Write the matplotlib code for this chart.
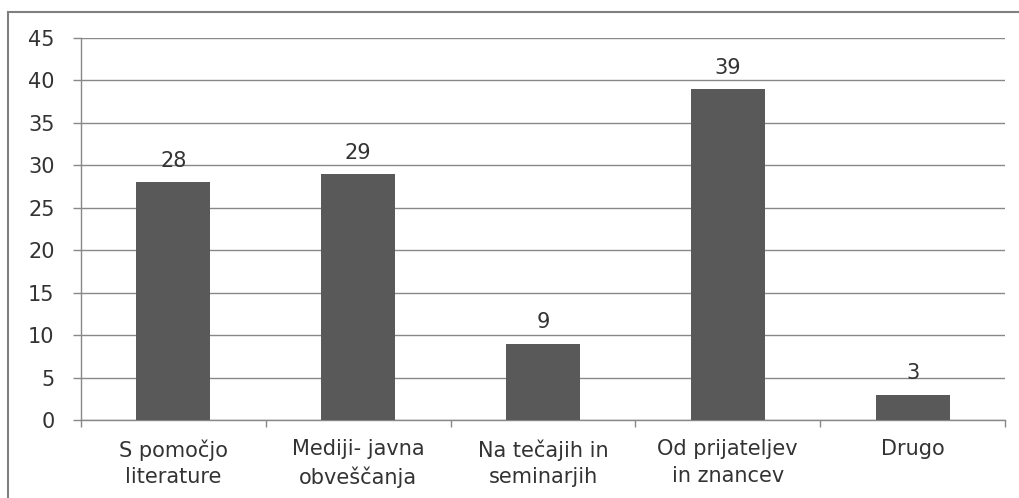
import matplotlib.pyplot as plt
from matplotlib.patches import Rectangle
import numpy as np

categories = ["S pomočjo\nliterature", "Mediji- javna\nobveščanja",
              "Na tečajih in\nseminarjih", "Od prijateljev\nin znancev", "Drugo"]
values = [28, 29, 9, 39, 3]
yticks = [0, 5, 10, 15, 20, 25, 30, 35, 40, 45]

W, H = 1020, 498
fig = plt.figure(figsize=(W / 100, H / 100), dpi=100)
ax = fig.add_axes([81 / W, 1 - 420 / H, (1005 - 81) / W, (420 - 38) / H])

grid_col = "#888888"
txt_col = "#333333"
fs = 15
x = np.arange(len(values))
bars = ax.bar(x, values, width=0.4, color="#595959", zorder=3)

for rect, v in zip(bars, values):
    ax.annotate(str(v), (rect.get_x() + rect.get_width() / 2, v),
                xytext=(0, 11), textcoords="offset points",
                ha="center", va="baseline", fontsize=fs, color=txt_col, zorder=4)

ax.set_xlim(-0.5, len(values) - 0.5)
ax.set_ylim(0, 45)
ax.set_yticks(yticks)
ax.tick_params(axis="y", labelsize=fs, colors=grid_col, labelcolor=txt_col,
               length=6, width=1, pad=13, direction="out")
ax.yaxis.grid(True, color=grid_col, linewidth=1, zorder=0)

# category labels sit between boundary ticks
ax.set_xticks(np.arange(-0.5, len(values)), minor=False)
ax.set_xticklabels([])
ax.set_xticks(x, minor=True)
ax.set_xticklabels(categories, minor=True, fontsize=fs, color=txt_col,
                   linespacing=1.4)
ax.tick_params(axis="x", which="major", length=5, width=1, colors=grid_col)
ax.tick_params(axis="x", which="minor", length=0, pad=14)

for s in ["top", "right"]:
    ax.spines[s].set_visible(False)
for s in ["left", "bottom"]:
    ax.spines[s].set_color(grid_col)
    ax.spines[s].set_linewidth(1)

fig.patches.append(Rectangle((8 / W, -0.1), 1.2, 1 - 12 / H + 0.1,
                             transform=fig.transFigure, fill=False,
                             edgecolor="#808080", linewidth=1.5))

fig.savefig("out.png", dpi=100)
